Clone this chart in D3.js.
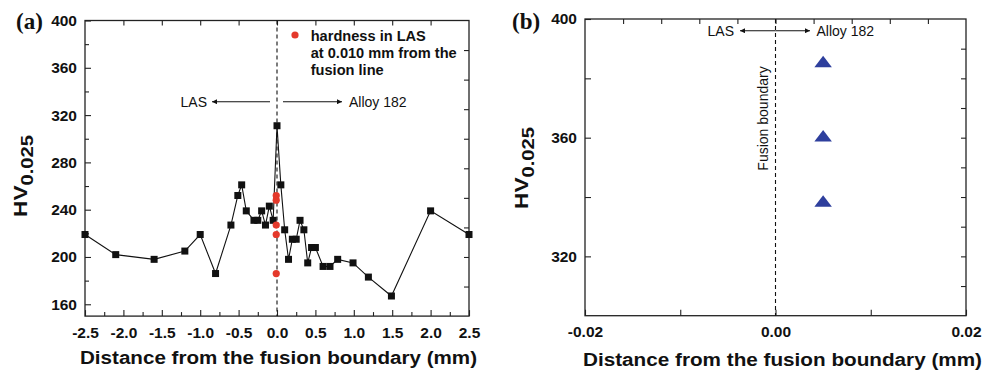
<!DOCTYPE html>
<html><head><meta charset="utf-8">
<script src="https://cdn.jsdelivr.net/npm/d3@7"></script>
<style>
body{margin:0;background:#fff;}
svg{display:block;}
text{fill:#111;}
</style></head>
<body>
<svg id="chart" width="999" height="375" font-family="'Liberation Sans',Arial,sans-serif"></svg>
<script>
// ---------- DATA ----------
// Panel (a): hardness profile across the fusion boundary
const distA = [-2.5,-2.1,-1.6,-1.2,-1.0,-0.8,-0.6,-0.51,-0.46,-0.40,-0.30,-0.25,-0.20,-0.15,-0.10,-0.05,0.0,0.05,0.10,0.15,0.20,0.25,0.30,0.35,0.40,0.45,0.50,0.60,0.69,0.79,0.99,1.19,1.49,2.0,2.5];
const hvA   = [219,202,198,205,219,186,227,252,261,239,231,231,239,227,243,231,311,261,223,198,215,215,231,223,195,208,208,192,192,198,195,183,167,239,219];
// Red points: hardness in LAS at 0.010 mm from the fusion line
const distLAS = [-0.01,-0.01,-0.01,-0.01,-0.01];
const hvLAS   = [252,248,227,219,186];
// Panel (b): Alloy 182 side near the boundary
const distB = [0.005,0.005,0.005];
const hvB   = [385,360,338];
// Ticks
const xTicksA = [-2.5,-2.0,-1.5,-1.0,-0.5,0.0,0.5,1.0,1.5,2.0,2.5];
const yTicksA = [160,200,240,280,320,360,400];
const xTicksB = [-0.02,0.00,0.02];
const yTicksB = [320,360,400];
const legendLines = ["hardness in LAS","at 0.010 mm from the","fusion line"];
const xTitle = "Distance from the fusion boundary (mm)";

const SANS = "'Liberation Sans',Arial,sans-serif";
const SERIF = "'Liberation Serif','Times New Roman',serif";
const svg = d3.select("#chart");
const defs = svg.append("defs");
defs.append("marker").attr("id","arr").attr("viewBox","0 0 10 10")
  .attr("refX",10).attr("refY",5).attr("markerWidth",7).attr("markerHeight",5)
  .attr("markerUnits","userSpaceOnUse").attr("orient","auto")
  .append("path").attr("d","M0,0L10,5L0,10Z").attr("fill","#111");

const axisColor = "#222";
function rng(a,b,s){const r=[];for(let v=a;v<=b+1e-9;v+=s)r.push(+v.toFixed(6));return r;}

function frame(g,x,y){
  const [x0,x1]=x.range(), [y0,y1]=y.range();
  g.append("rect").attr("x",x0).attr("y",y1).attr("width",x1-x0).attr("height",y0-y1)
   .attr("fill","none").attr("stroke",axisColor).attr("stroke-width",1.3);
}
function tickAxis(g,axis,transform,labelSize){
  const a=g.append("g").attr("transform",transform).call(axis);
  a.select(".domain").remove();
  a.selectAll(".tick line").attr("stroke",axisColor).attr("stroke-width",1.1);
  a.selectAll("text").style("font-size",labelSize+"px").style("font-weight","bold").style("fill","#111")
   .style("font-family",SANS);
  return a;
}
function yTitle(g,cx,cy,scale){
  const t=g.append("text").attr("transform",`translate(${cx},${cy}) rotate(-90) scale(${scale},1)`)
    .attr("text-anchor","middle").style("font-weight","bold").style("font-family",SANS);
  t.append("tspan").style("font-size","18px").text("HV");
  t.append("tspan").style("font-size","16px").attr("dy",6).text("0.025");
}

// ---------- PANEL A ----------
const gA = svg.append("g");
const xA = d3.scaleLinear().domain([-2.5,2.5]).range([85,469]);
const yA = d3.scaleLinear().domain([150,400]).range([316.1,20.5]);
const fmt1 = d=>d.toFixed(1);
tickAxis(gA,d3.axisBottom(xA).tickValues(rng(-2.25,2.25,0.5)).tickSize(-4).tickFormat(""),`translate(0,${yA.range()[0]})`,15.5);
tickAxis(gA,d3.axisBottom(xA).tickValues(xTicksA).tickSize(-6).tickPadding(11).tickFormat(fmt1),`translate(0,${yA.range()[0]})`,15.5);
tickAxis(gA,d3.axisTop(xA).tickValues(rng(-2.0,2.0,0.5)).tickSize(-5).tickFormat(""),`translate(0,${yA.range()[1]})`,15.5);
tickAxis(gA,d3.axisLeft(yA).tickValues(rng(180,380,40)).tickSize(-4).tickFormat(""),`translate(${xA.range()[0]},0)`,15.5);
tickAxis(gA,d3.axisLeft(yA).tickValues(yTicksA).tickSize(-6).tickPadding(8).tickFormat(d3.format("d")),`translate(${xA.range()[0]},0)`,15.5);
tickAxis(gA,d3.axisRight(yA).tickValues(rng(175,375,25)).tickSize(-5).tickFormat(""),`translate(${xA.range()[1]},0)`,15.5);
frame(gA,xA,yA);
gA.append("line").attr("x1",xA(0)).attr("x2",xA(0)).attr("y1",yA(400)).attr("y2",yA(150))
  .attr("stroke","#111").attr("stroke-width",1.1).attr("stroke-dasharray","4,3");
const lineA = d3.line().x((d,i)=>xA(distA[i])).y((d,i)=>yA(hvA[i]));
gA.append("path").attr("d",lineA(hvA)).attr("fill","none").attr("stroke","#111").attr("stroke-width",1.1);
gA.selectAll("rect.sq").data(hvA).join("rect").attr("class","sq")
  .attr("x",(d,i)=>xA(distA[i])-3.5).attr("y",d=>yA(d)-3.5).attr("width",7).attr("height",7).attr("fill","#111");
gA.selectAll("circle.las").data(hvLAS).join("circle").attr("class","las")
  .attr("cx",(d,i)=>xA(distLAS[i])).attr("cy",d=>yA(d)).attr("r",3.6).attr("fill","#e4392b");
// legend
gA.append("circle").attr("cx",295).attr("cy",35).attr("r",3.6).attr("fill","#e4392b");
gA.selectAll("text.leg").data(legendLines).join("text").attr("class","leg")
  .attr("x",310.7).attr("y",(d,i)=>40.7+i*17.3).style("font-size","14.6px").style("font-weight","bold").text(d=>d);
// arrows
gA.append("line").attr("x1",270).attr("x2",212).attr("y1",101.7).attr("y2",101.7).attr("stroke","#111").attr("stroke-width",1.1).attr("marker-end","url(#arr)");
gA.append("line").attr("x1",283).attr("x2",342).attr("y1",101.7).attr("y2",101.7).attr("stroke","#111").attr("stroke-width",1.1).attr("marker-end","url(#arr)");
gA.append("text").attr("x",207).attr("y",106.5).attr("text-anchor","end").style("font-size","14px").text("LAS");
gA.append("text").attr("x",349).attr("y",106.5).style("font-size","14px").text("Alloy 182");
// titles
gA.append("text").attr("x",16).attr("y",29).style("font-family",SERIF)
  .style("font-weight","bold").style("font-size","23px").text("(a)");
yTitle(gA,27,176,1.26);
gA.append("text").attr("x",278.5).attr("y",364).attr("text-anchor","middle").style("font-size","17.5px")
  .style("font-weight","bold").attr("textLength",397).attr("lengthAdjust","spacingAndGlyphs").text(xTitle);

// ---------- PANEL B ----------
const gB = svg.append("g");
const xB = d3.scaleLinear().domain([-0.02,0.02]).range([585,966]);
const yB = d3.scaleLinear().domain([300,400]).range([315.7,19]);
const fmt2 = d=>d.toFixed(2);
tickAxis(gB,d3.axisBottom(xB).tickValues([-0.01,0.01]).tickSize(-6).tickFormat(""),`translate(0,${yB.range()[0]})`,15.5);
tickAxis(gB,d3.axisBottom(xB).tickValues(xTicksB).tickSize(-6).tickPadding(10).tickFormat(fmt2),`translate(0,${yB.range()[0]})`,15.5);
tickAxis(gB,d3.axisTop(xB).tickValues(rng(-0.016,0.016,0.004)).tickSize(-5).tickFormat(""),`translate(0,${yB.range()[1]})`,15.5);
tickAxis(gB,d3.axisLeft(yB).tickValues([340,380]).tickSize(-6).tickFormat(""),`translate(${xB.range()[0]},0)`,15.5);
tickAxis(gB,d3.axisLeft(yB).tickValues(yTicksB).tickSize(-6).tickPadding(8).tickFormat(d3.format("d")),`translate(${xB.range()[0]},0)`,15.5);
tickAxis(gB,d3.axisRight(yB).tickValues(rng(310,390,10)).tickSize(-5).tickFormat(""),`translate(${xB.range()[1]},0)`,15.5);
frame(gB,xB,yB);
gB.append("line").attr("x1",xB(0)).attr("x2",xB(0)).attr("y1",yB(400)).attr("y2",yB(300))
  .attr("stroke","#111").attr("stroke-width",1.1).attr("stroke-dasharray","4,3");
const tri = d3.symbol().type(d3.symbolTriangle).size(85);
gB.selectAll("path.tri").data(hvB).join("path").attr("class","tri")
  .attr("transform",(d,i)=>`translate(${xB(distB[i])},${yB(d)}) scale(1.25,0.95)`)
  .attr("d",tri).attr("fill","#2e3f9d");
gB.append("line").attr("x1",xB(0)).attr("x2",740).attr("y1",30.7).attr("y2",30.7).attr("stroke","#111").attr("stroke-width",1.1).attr("marker-end","url(#arr)");
gB.append("line").attr("x1",xB(0)).attr("x2",810).attr("y1",30.7).attr("y2",30.7).attr("stroke","#111").attr("stroke-width",1.1).attr("marker-end","url(#arr)");
gB.append("text").attr("x",734).attr("y",35.5).attr("text-anchor","end").style("font-size","14px").text("LAS");
gB.append("text").attr("x",816.5).attr("y",36).style("font-size","14px").text("Alloy 182");
gB.append("text").attr("transform",`translate(768,118.5) rotate(-90)`).attr("text-anchor","middle")
  .style("font-size","14px").text("Fusion boundary");
gB.append("text").attr("x",512).attr("y",29).style("font-family",SERIF)
  .style("font-weight","bold").style("font-size","23px").text("(b)");
yTitle(gB,528,168,1.26);
gB.append("text").attr("x",782.5).attr("y",366).attr("text-anchor","middle").style("font-size","17.5px")
  .style("font-weight","bold").attr("textLength",399).attr("lengthAdjust","spacingAndGlyphs").text(xTitle);
</script>
</body></html>
